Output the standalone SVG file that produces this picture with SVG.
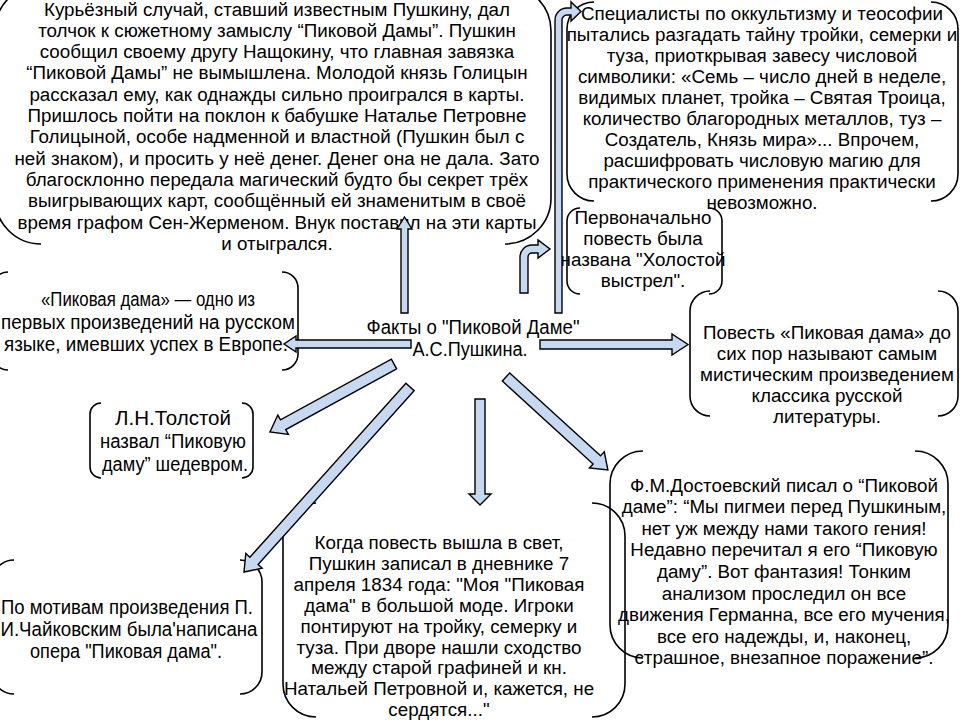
<svg xmlns="http://www.w3.org/2000/svg" width="960" height="720" viewBox="0 0 960 720">
<defs>
<style>
.bg{fill:#ffffff}
.br{fill:none;stroke:#000000;stroke-width:1.6}
.t{font-family:"Liberation Sans",Arial,sans-serif;font-size:18.8px;fill:#000000;text-anchor:middle}
.n{font-family:"Liberation Sans",Arial,sans-serif;font-size:19.5px;fill:#000000;text-anchor:middle}
.ar{fill:#c6d9f1;stroke:#000000;stroke-width:1.4;stroke-linejoin:miter}
</style>
</defs>
<rect class="bg" x="0" y="0" width="960" height="720"/>

<g id="node-kurioz">
<path class="br" d="M41,244 A46,46 0 0 1 -5,198 V31 A46,46 0 0 1 41,-15"/>
<path class="br" d="M505,-15 A46,46 0 0 1 551,31 V198 A46,46 0 0 1 505,244"/>
<text class="t" x="277" y="15.5">Курьёзный случай, ставший известным Пушкину, дал</text>
<text class="t" x="277" y="36.8">толчок к сюжетному замыслу “Пиковой Дамы”. Пушкин</text>
<text class="t" x="277" y="58.1">сообщил своему другу Нащокину, что главная завязка</text>
<text class="t" x="277" y="79.4">“Пиковой Дамы” не вымышлена. Молодой князь Голицын</text>
<text class="t" x="277" y="100.7">рассказал ему, как однажды сильно проигрался в карты.</text>
<text class="t" x="277" y="122">Пришлось пойти на поклон к бабушке Наталье Петровне</text>
<text class="t" x="277" y="143.3">Голицыной, особе надменной и властной (Пушкин был с</text>
<text class="t" x="277" y="164.6">ней знаком), и просить у неё денег. Денег она не дала. Зато</text>
<text class="t" x="277" y="185.9">благосклонно передала магический будто бы секрет трёх</text>
<text class="t" x="277" y="207.2">выигрывающих карт, сообщённый ей знаменитым в своё</text>
<text class="t" x="277" y="228.5">время графом Сен-Жерменом. Внук поставил на эти карты</text>
<text class="t" x="277" y="249.8">и отыгрался.</text>
</g>

<g id="node-occult">
<path class="br" d="M594,201 A27,27 0 0 1 567,174 V29 A27,27 0 0 1 594,2"/>
<path class="br" d="M931,2 A27,27 0 0 1 958,29 V174 A27,27 0 0 1 931,201"/>
<text class="t" x="762" y="19.5">Специалисты по оккультизму и теософии</text>
<text class="t" x="762" y="40.5">пытались разгадать тайну тройки, семерки и</text>
<text class="t" x="762" y="61.5">туза, приоткрывая завесу числовой</text>
<text class="t" x="762" y="82.5">символики: «Семь – число дней в неделе,</text>
<text class="t" x="762" y="103.5">видимых планет, тройка – Святая Троица,</text>
<text class="t" x="762" y="124.5">количество благородных металлов, туз –</text>
<text class="t" x="762" y="145.5">Создатель, Князь мира»... Впрочем,</text>
<text class="t" x="762" y="166.5">расшифровать числовую магию для</text>
<text class="t" x="762" y="187.5">практического применения практически</text>
<text class="t" x="762" y="208.5">невозможно.</text>
</g>

<g id="node-holostoy">
<path class="br" d="M580,294 A13,13 0 0 1 567,281 V221 A13,13 0 0 1 580,208"/>
<path class="br" d="M709,208 A13,13 0 0 1 722,221 V281 A13,13 0 0 1 709,294"/>
<text class="t" x="643" y="223.5">Первоначально</text>
<text class="t" x="643" y="244.5">повесть была</text>
<text class="t" x="643" y="265.5">названа "Холостой</text>
<text class="t" x="643" y="286.5">выстрел".</text>
</g>

<g id="node-europe">
<path class="br" d="M8,370 A16,16 0 0 1 -8,354 V288 A16,16 0 0 1 8,272"/>
<path class="br" d="M282,272 A16,16 0 0 1 298,288 V354 A16,16 0 0 1 282,370"/>
<text class="n" x="148" y="306" textLength="214" lengthAdjust="spacingAndGlyphs">«Пиковая дама» — одно из</text>
<text class="n" x="148" y="328.5" textLength="294" lengthAdjust="spacingAndGlyphs">первых произведений на русском</text>
<text class="n" x="146" y="351" textLength="284" lengthAdjust="spacingAndGlyphs">языке, имевших успех в Европе.</text>
</g>

<g id="node-center">
<text class="n" x="473" y="334" textLength="213" lengthAdjust="spacingAndGlyphs">Факты о "Пиковой Даме"</text>
<text class="n" x="470" y="356" textLength="115" lengthAdjust="spacingAndGlyphs">А.С.Пушкина.</text>
</g>

<g id="node-mystic">
<path class="br" d="M710,416 A20,20 0 0 1 690,396 V311 A20,20 0 0 1 710,291"/>
<path class="br" d="M938,291 A20,20 0 0 1 958,311 V396 A20,20 0 0 1 938,416"/>
<text class="t" x="827" y="339">Повесть «Пиковая дама» до</text>
<text class="t" x="827" y="360">сих пор называют самым</text>
<text class="t" x="827" y="381">мистическим произведением</text>
<text class="t" x="827" y="402">классика русской</text>
<text class="t" x="827" y="423">литературы.</text>
</g>

<g id="node-tolstoy">
<path class="br" d="M101,478 A11,11 0 0 1 90,467 V414 A11,11 0 0 1 101,403"/>
<path class="br" d="M242,403 A11,11 0 0 1 253,414 V467 A11,11 0 0 1 242,478"/>
<text class="n" x="173" y="425" textLength="116" lengthAdjust="spacingAndGlyphs">Л.Н.Толстой</text>
<text class="n" x="173" y="448" textLength="146" lengthAdjust="spacingAndGlyphs">назвал “Пиковую</text>
<text class="n" x="175" y="471" textLength="146" lengthAdjust="spacingAndGlyphs">даму” шедевром.</text>
</g>

<g id="node-dostoevsky">
<path class="br" d="M643,658 A33,33 0 0 1 610,625 V484 A33,33 0 0 1 643,451"/>
<path class="br" d="M915,451 A33,33 0 0 1 948,484 V625 A33,33 0 0 1 915,658"/>
<text class="t" x="784" y="491.5">Ф.М.Достоевский писал о “Пиковой</text>
<text class="t" x="784" y="513.1">даме”: “Мы пигмеи перед Пушкиным,</text>
<text class="t" x="784" y="534.7">нет уж между нами такого гения!</text>
<text class="t" x="784" y="556.3">Недавно перечитал я его “Пиковую</text>
<text class="t" x="784" y="577.9">даму”. Вот фантазия! Тонким</text>
<text class="t" x="784" y="599.5">анализом проследил он все</text>
<text class="t" x="784" y="621.1">движения Германна, все его мучения,</text>
<text class="t" x="784" y="642.7">все его надежды, и, наконец,</text>
<text class="t" x="784" y="664.3">страшное, внезапное поражение”.</text>
</g>

<g id="node-diary">
<path class="br" d="M316,717 A33,33 0 0 1 283,684 V536 A33,33 0 0 1 316,503"/>
<path class="br" d="M592,503 A33,33 0 0 1 625,536 V684 A33,33 0 0 1 592,717"/>
<text class="t" x="439" y="549">Когда повесть вышла в свет,</text>
<text class="t" x="439" y="569.9">Пушкин записал в дневнике 7</text>
<text class="t" x="439" y="590.8">апреля 1834 года: "Моя "Пиковая</text>
<text class="t" x="439" y="611.7">дама" в большой моде. Игроки</text>
<text class="t" x="439" y="632.6">понтируют на тройку, семерку и</text>
<text class="t" x="439" y="653.5">туза. При дворе нашли сходство</text>
<text class="t" x="439" y="674.4">между старой графиней и кн.</text>
<text class="t" x="439" y="695.3">Натальей Петровной и, кажется, не</text>
<text class="t" x="439" y="716">сердятся..."</text>
</g>

<g id="node-opera">
<path class="br" d="M14,694 A22,22 0 0 1 -8,672 V582 A22,22 0 0 1 14,560"/>
<path class="br" d="M240,560 A22,22 0 0 1 262,582 V672 A22,22 0 0 1 240,694"/>
<text class="n" x="127" y="614" textLength="252" lengthAdjust="spacingAndGlyphs">По мотивам произведения П.</text>
<text class="n" x="129" y="636" textLength="257" lengthAdjust="spacingAndGlyphs">И.Чайковским была'написана</text>
<text class="n" x="126" y="658" textLength="192" lengthAdjust="spacingAndGlyphs">опера "Пиковая дама".</text>
</g>

<g id="connectors">
<polygon class="ar" points="401,313 401,229 397,229 404.5,217 412,229 408,229 408,313"/>
<path class="ar" d="M555,313 V20 A12,12 0 0 1 567,8 H571 V2 L581,11.5 L571,21 V15 H567 A5,5 0 0 0 562,20 V313 Z"/>
<path class="ar" d="M520,293 V257 A12,12 0 0 1 532,245 H538 V240 L550,249 L538,258 V253 H532 A4,4 0 0 0 528,257 V293 Z"/>
<polygon class="ar" points="411,340 296,340 296,336 284,344 296,352 296,348 411,348"/>
<polygon class="ar" points="540,340 672,340 672,334 688,344.5 672,355 672,349 540,349"/>
<polygon class="ar" points="475,399 485,399 485,494 491,494 480,505 469,494 475,494"/>
<polygon class="ar" transform="translate(394,364) rotate(151.3)" points="0,-5.5 126.4,-5.5 126.4,-11 141.4,0 126.4,11 126.4,5.5 0,5.5"/>
<polygon class="ar" transform="translate(410,387) rotate(131.9)" points="0,-5.5 233.6,-5.5 233.6,-11 248.6,0 233.6,11 233.6,5.5 0,5.5"/>
<polygon class="ar" transform="translate(506,377) rotate(42.4)" points="0,-5.5 123,-5.5 123,-11 138,0 123,11 123,5.5 0,5.5"/>
</g>
</svg>
